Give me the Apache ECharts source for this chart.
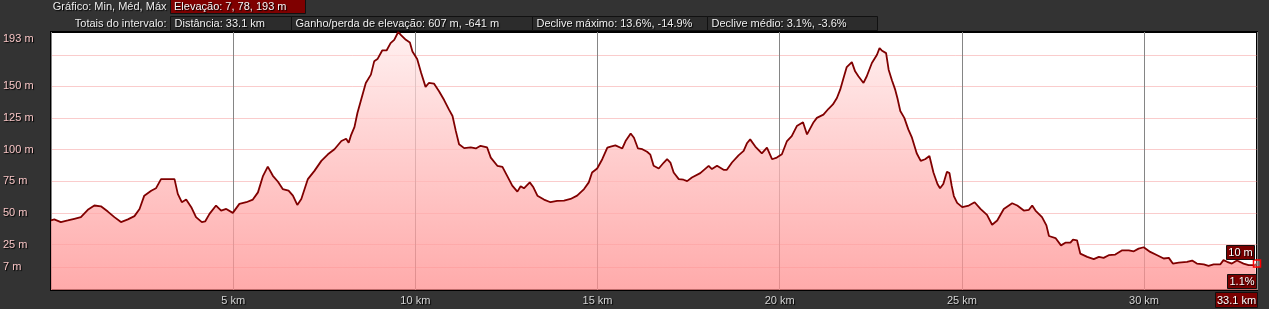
<!DOCTYPE html>
<html>
<head>
<meta charset="utf-8">
<script src="https://cdn.jsdelivr.net/npm/echarts@6/dist/echarts.min.js"></script>
<style>
html,body{margin:0;padding:0;background:#333;}
#c{width:1269px;height:309px;}
</style>
</head>
<body>
<div id="c"></div>
<script>
// Distance (km) and elevation (m) read from the profile
const distKm = [0.00,0.09,0.27,0.46,0.64,0.82,1.01,1.19,1.37,1.56,1.74,1.92,2.11,2.29,2.43,2.56,2.75,2.88,3.02,3.39,3.48,3.59,3.71,3.85,3.98,4.14,4.23,4.35,4.53,4.67,4.81,4.99,5.17,5.36,5.54,5.68,5.82,5.95,6.09,6.23,6.36,6.52,6.64,6.76,6.87,7.05,7.23,7.42,7.60,7.78,7.97,8.10,8.17,8.23,8.33,8.41,8.50,8.64,8.78,8.87,8.96,9.09,9.21,9.32,9.42,9.53,9.60,9.74,9.85,9.92,10.05,10.16,10.28,10.37,10.51,10.65,10.79,10.92,11.02,11.11,11.20,11.34,11.52,11.66,11.79,11.97,12.07,12.25,12.39,12.52,12.66,12.80,12.89,12.98,13.14,13.24,13.35,13.53,13.71,13.89,14.08,14.26,14.44,14.63,14.76,14.85,14.99,15.13,15.27,15.36,15.49,15.68,15.77,15.91,16.00,16.11,16.23,16.36,16.45,16.54,16.68,16.82,16.91,17.00,17.09,17.23,17.36,17.46,17.59,17.82,18.05,18.14,18.28,18.46,18.55,18.69,18.87,19.01,19.10,19.19,19.33,19.51,19.65,19.79,19.92,20.06,20.20,20.33,20.47,20.64,20.75,20.93,21.02,21.20,21.34,21.46,21.57,21.66,21.75,21.84,21.98,22.07,22.16,22.30,22.39,22.53,22.67,22.74,22.80,22.92,22.99,23.08,23.17,23.23,23.31,23.42,23.53,23.63,23.76,23.87,23.99,24.11,24.22,24.33,24.40,24.49,24.59,24.66,24.72,24.78,24.87,25.01,25.19,25.35,25.51,25.69,25.83,25.97,26.15,26.38,26.52,26.70,26.84,26.93,27.02,27.20,27.32,27.39,27.57,27.72,27.84,27.98,28.05,28.16,28.25,28.44,28.62,28.76,28.89,29.03,29.21,29.40,29.58,29.72,29.85,29.99,30.17,30.36,30.54,30.68,30.72,30.79,30.95,31.18,31.32,31.45,31.64,31.77,31.91,32.09,32.18,32.28,32.41,32.55,32.73,32.87,33.05,33.10];
const elevM = [44,44.8,42.7,44,45.3,46.6,52.4,55.8,55.2,51,46.6,42.7,44.8,47.4,53,63.6,67.5,69.4,76.7,76.7,65,58.4,60.5,54.5,46.6,42.7,43.2,49.2,55.8,51.8,53.1,50,57.1,58.4,60.5,66.2,79.3,86.6,79.3,74.6,68.8,67.5,63.6,56.3,61,76.7,83.2,91.1,96.3,100.3,106.8,108.6,105.5,111,118,129,138.2,152.7,159.3,169.8,171.6,178.4,178.4,184.2,186.8,193,190.7,186.8,184.7,177.6,171.6,160.6,149.6,152.7,152.2,146.2,139.2,131.8,126.6,114.8,104.3,101.2,101.7,100.9,103,101.7,93.7,87.2,86.4,79.3,71.5,66.8,71,69.4,74.1,70.2,63.6,60.5,58.4,59.4,59.7,61,63.6,68.8,74.1,81.9,85.1,92.4,101.6,102.4,103.4,100.9,106.8,112.8,109.4,100.9,100.3,98.3,96,87.2,85.1,89.8,92.4,89.8,81.9,76.7,76.2,75.1,78,81.4,87.2,84.6,87.2,84,84,89.8,95.5,99,105,108.1,102.4,97.1,101.6,92.4,93.7,96.3,106.8,110.7,118.6,121.7,112,121.7,125.1,127.7,132.3,135.7,140.8,147.4,156.5,165.3,169.2,161.9,158,152.7,158,168.5,175,180.2,178.4,176.3,163.2,154.8,147.4,140.8,130.5,125.1,116,109.4,97.1,91.1,92.4,95,81.9,72.8,69.4,72.8,82.5,81.4,71.5,63.3,57.9,54.5,55.8,58.4,53.1,48.4,40.6,44,53.1,57.6,55.8,51.8,52.4,55.8,51.8,46.6,40.1,31.7,30.1,24.3,26.4,26.4,28.8,28.3,17.8,15.2,13.4,15.2,14.4,16.5,17,20.4,20.4,19.6,21.7,22.8,19.1,16.5,13.9,14.4,15.2,9.9,10.7,11.3,12.3,9.9,9.2,8.1,9.2,9.2,12.6,11.3,9.9,12.3,9.9,8.6,8.6,10];

const yLabelValues = [7,25,50,75,100,125,150,193];
const yLineValues = [7,25,50,75,100,125,150,175];
const xTickInterval = 5;
const totalKm = 33.1;

const headerRow1Label = 'Gráfico: Min, Méd, Máx';
const headerRow1Box = 'Elevação: 7, 78, 193 m';
const headerRow2Label = 'Totais do intervalo:';
const headerRow2Boxes = ['Distância: 33.1 km','Ganho/perda de elevação: 607 m, -641 m','Declive máximo: 13.6%, -14.9%','Declive médio: 3.1%, -3.6%'];
const cursorTexts = ['10 m','1.1%','33.1 km'];

const FONT = "'Liberation Sans', Arial, sans-serif";
const shadow = {textShadowColor:'#000',textShadowBlur:1,textShadowOffsetX:1,textShadowOffsetY:1};

const chart = echarts.init(document.getElementById('c'), null, {renderer:'canvas'});

const graphic = [];
function txt(x,y,s,opt){
  graphic.push({type:'text',x:x,y:y,z:100,style:Object.assign({text:s,fill:'#e6e6e6',font:'11px '+FONT,textAlign:'left',textVerticalAlign:'middle',verticalAlign:'middle',align:'left'},shadow,opt||{})});
}
function box(x,y,w,h,fill){
  graphic.push({type:'rect',x:x,y:y,z:99,shape:{x:0,y:0,width:w,height:h},style:{fill:fill,stroke:'#111',lineWidth:1}});
}
// header row 1
txt(166.5,7,headerRow1Label,{textAlign:'right',align:'right',fill:'#ececec'});
box(170.5,-0.5,135,14,'#7f0000');
txt(174,7,headerRow1Box,{fill:'#f4f4f4'});
// header row 2
txt(166.5,24,headerRow2Label,{textAlign:'right',align:'right',fill:'#ececec'});
const row2X = [170.5,291.5,532.5,707.5,877.5];
for(let i=0;i<headerRow2Boxes.length;i++){
  box(row2X[i],16.5,row2X[i+1]-row2X[i],14,'#2c2c2c');
  txt(row2X[i]+4,24,headerRow2Boxes[i],{fill:'#efefef'});
}
// cursor readouts
box(1226.5,245.5,28,14,'#7a0000');
txt(1240.5,253,cursorTexts[0],{textAlign:'center',align:'center',fill:'#fff'});
box(1227.5,274.5,29,14,'#7a0000');
txt(1242,282,cursorTexts[1],{textAlign:'center',align:'center',fill:'#fff'});
box(1215.5,292.5,42,15,'#7a0000');
txt(1236.5,300.5,cursorTexts[2],{textAlign:'center',align:'center',fill:'#fff'});

const data = distKm.map((d,i)=>[d,elevM[i]]);

chart.setOption({
  animation:false,
  backgroundColor:'#333',
  grid:{left:50,right:12,top:32,bottom:19,show:true,backgroundColor:'#fff',borderColor:'#000',borderWidth:2,containLabel:false},
  xAxis:{
    type:'value',min:0,max:totalKm,interval:xTickInterval,
    axisLine:{show:false},axisTick:{show:false},
    splitLine:{show:true,lineStyle:{color:'#858585',width:1}},
    axisLabel:Object.assign({color:'#d4d4d4',fontSize:11,fontFamily:FONT,margin:5,showMinLabel:false,showMaxLabel:false,
      formatter:v=>v+' km'},shadow)
  },
  yAxis:{
    type:'value',min:-11,max:193,
    axisLine:{show:false},
    axisTick:{show:false,customValues:yLineValues},
    splitLine:{show:true,lineStyle:{color:'rgba(240,110,110,0.35)',width:1}},
    axisLabel:Object.assign({customValues:yLabelValues,color:'#f6c4c4',fontSize:11,fontFamily:FONT,align:'left',margin:48,
      formatter:v=>v===193?'{t|'+v+' m}':v+' m',
      rich:{t:Object.assign({color:'#f6c4c4',fontSize:11,fontFamily:FONT,padding:[14,0,0,0]},shadow)}},shadow)
  },
  graphic:graphic,
  series:[{
    type:'line',data:data,showSymbol:false,symbol:'none',
    lineStyle:{color:'#800000',width:1.8},
    areaStyle:{origin:'start',opacity:0.75,color:new echarts.graphic.LinearGradient(0,0,0,1,[{offset:0,color:'#ffebeb'},{offset:0.5,color:'#ffbbbb'},{offset:1,color:'#ff8e8e'}])},
    markPoint:{
      symbol:'rect',symbolSize:7,label:{show:false},silent:true,
      itemStyle:{color:'rgba(255,255,255,0.3)',borderColor:'#ff0000',borderWidth:1.5},
      data:[{coord:[distKm[distKm.length-1],elevM[elevM.length-1]]}]
    }
  }]
});
</script>
</body>
</html>
